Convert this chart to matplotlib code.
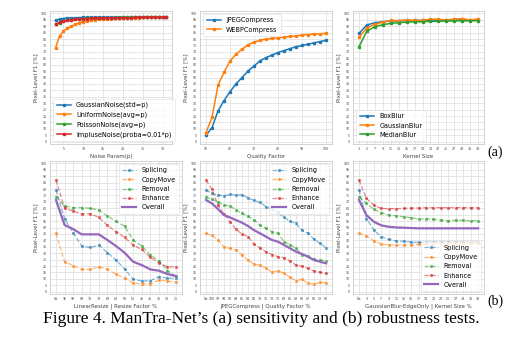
import matplotlib.pyplot as plt

# ---- (a) sensitivity tests ----
noise_p = list(range(3, 32))
gaussian_noise = [94.5, 95.6, 96.0, 96.3, 96.5, 96.6, 96.7, 96.8, 96.8, 96.9,
                  96.9, 97.0, 97.0, 97.0, 97.0, 97.0, 97.0, 97.0, 97.0, 97.0,
                  97.0, 97.0, 97.0, 97.0, 97.0, 97.0, 97.0, 97.0, 97.0]
uniform_noise = [73.2, 82.3, 86.2, 88.3, 90.1, 91.4, 92.7, 93.5, 94.2, 94.7,
                 95.0, 95.3, 95.6, 95.8, 96.0, 96.1, 96.3, 96.4, 96.5, 96.6,
                 96.7, 96.7, 96.8, 96.8, 96.9, 96.9, 97.0, 97.0, 97.0]
poisson_noise = [91.4, 92.7, 93.8, 94.5, 95.0, 95.4, 95.7, 95.9, 96.1, 96.2,
                 96.3, 96.4, 96.5, 96.6, 96.6, 96.7, 96.7, 96.8, 96.8, 96.8,
                 96.9, 96.9, 96.9, 96.9, 97.0, 97.0, 97.0, 97.0, 97.0]
impulse_noise = [91.6, 93.0, 94.0, 94.5, 95.0, 95.3, 95.6, 95.8, 96.0, 96.1,
                 96.2, 96.3, 96.4, 96.5, 96.5, 96.6, 96.6, 96.7, 96.7, 96.7,
                 96.8, 96.8, 96.8, 96.8, 96.9, 96.9, 96.9, 96.9, 96.9]

quality = [50, 52.5, 55, 57.5, 60, 62.5, 65, 67.5, 70, 72.5, 75,
           77.5, 80, 82.5, 85, 87.5, 90, 92.5, 95, 97.5, 100]
jpeg_comp = [5, 11, 24, 32, 39, 45, 50, 55, 59, 63, 65.5,
             67.5, 69.5, 71, 72.5, 74, 75, 76, 77, 78, 79]
webp_comp = [7, 19, 44, 54, 63, 68, 72, 75.5, 77.5, 79, 80,
             80.5, 81, 81.5, 82, 82.5, 83, 83.5, 84, 84, 84.5]

kernel = [3, 5, 7, 9, 11, 13, 15, 17, 19, 21, 23, 25, 27, 29, 31, 33]
box_blur = [84.4, 91.0, 92.7, 93.5, 94.0, 94.3, 94.5, 94.5, 94.6, 94.7,
            94.8, 94.8, 94.9, 94.9, 95.0, 95.0]
gauss_blur = [81.3, 88.8, 91.4, 93.2, 94.5, 94.3, 94.8, 94.5, 94.5, 95.5,
              95.5, 94.8, 95.5, 96.0, 94.8, 95.8]
median_blur = [74.0, 86.2, 89.6, 91.2, 92.2, 92.7, 93.2, 93.4, 93.5, 93.8,
               93.9, 94.0, 94.1, 94.2, 94.2, 94.3]

# ---- (b) robustness tests ----
resize_labels = ["No", "95", "90", "84", "78", "73", "68", "62", "56", "51",
                 "46", "41", "35", "30", "25"]
resize_splicing = [79.5, 57.0, 46.0, 35.6, 34.5, 36.4, 30.4, 24.7, 17.7, 9.9,
                   8.3, 8.6, 11.7, 10.6, 10.6]
resize_copymove = [45.5, 23.4, 20.3, 17.4, 17.4, 19.5, 17.4, 13.8, 10.4, 7.0,
                   6.0, 6.2, 9.0, 8.3, 7.5]
resize_removal = [74.0, 66.8, 65.5, 65.5, 65.0, 63.6, 59.0, 54.8, 51.2, 40.3,
                  35.6, 28.6, 24.2, 16.4, 12.2]
resize_enhance = [87.0, 65.0, 62.9, 60.5, 60.8, 57.9, 51.7, 46.8, 42.3, 36.4,
                  33.0, 26.8, 22.6, 19.5, 19.2]
resize_overall = [71.5, 52.0, 48.8, 44.7, 44.7, 44.7, 40.3, 35.6, 30.4, 23.4,
                  20.8, 17.4, 16.4, 13.8, 12.2]

jpeg_labels = ["No", "100", "97", "94", "92", "89", "86", "84", "81", "78",
               "76", "73", "71", "68", "65", "63", "60", "57", "55", "52", "50"]
jpeg_splicing = [79.5, 76.6, 75.3, 74.8, 75.8, 75.3, 75.6, 73.2, 71.2, 69.6,
                 66.2, 64.4, 61.8, 57.9, 55.0, 53.2, 48.0, 45.5, 40.8, 37.7, 34.3]
jpeg_copymove = [45.5, 43.9, 40.3, 35.0, 33.8, 32.5, 28.6, 24.7, 21.3, 20.8,
                 18.4, 15.3, 16.4, 14.3, 11.2, 8.6, 9.6, 6.5, 6.0, 7.3, 7.0]
jpeg_removal = [74.0, 72.0, 70.1, 67.5, 67.0, 63.6, 61.0, 59.0, 55.8, 51.9,
                49.4, 46.8, 45.5, 39.0, 36.4, 33.8, 29.0, 27.8, 25.2, 24.7, 24.2]
jpeg_enhance = [87.0, 79.7, 67.5, 60.5, 54.5, 48.6, 45.0, 42.9, 37.1, 34.3,
                31.2, 29.0, 27.3, 26.5, 23.9, 20.8, 20.0, 18.2, 16.1, 15.3, 14.3]
jpeg_overall = [71.5, 68.8, 64.4, 59.7, 57.9, 55.8, 53.8, 51.2, 48.0, 45.5,
                42.9, 40.3, 39.0, 36.4, 33.8, 31.2, 29.4, 27.3, 24.7, 23.4, 22.1]

edge_labels = ["No", "3", "5", "7", "9", "11", "13", "15", "17", "19", "21",
               "23", "25", "27", "29", "31", "33"]
edge_splicing = [79.5, 57.0, 48.0, 42.9, 40.8, 39.7, 39.2, 38.7, 38.4, 38.4,
                 38.7, 38.4, 38.7, 38.4, 38.4, 38.2, 38.2]
edge_copymove = [45.5, 43.4, 39.7, 37.1, 36.6, 36.4, 36.4, 36.4, 36.9, 37.1,
                 37.4, 37.7, 37.7, 37.7, 37.9, 38.2, 38.2]
edge_removal = [74.0, 68.8, 64.2, 61.6, 59.7, 59.2, 58.4, 57.7, 56.6, 56.9,
                56.4, 55.8, 55.3, 55.6, 55.6, 55.3, 55.3]
edge_enhance = [87.0, 72.7, 67.5, 64.9, 64.7, 64.7, 64.9, 65.2, 65.2, 65.5,
                65.5, 65.5, 65.5, 65.5, 65.5, 65.5, 65.5]
edge_overall = [71.5, 59.7, 54.5, 51.7, 50.6, 50.1, 49.9, 49.6, 49.4, 49.4,
                49.4, 49.4, 49.4, 49.4, 49.4, 49.4, 49.4]

C_BLUE, C_ORANGE, C_GREEN, C_RED, C_PURPLE = "#1f77b4", "#ff7f0e", "#2ca02c", "#d62728", "#9467bd"
GRID = "#dcdcdc"
TICK_FS = 2.3
LABEL_FS = 4.0
LEG_FS = 4.7

plt.rcParams["font.family"] = "DejaVu Sans"

fig = plt.figure(figsize=(5.23, 3.40), dpi=100)
fig.patch.set_facecolor("white")


def style_axes(ax):
    ax.set_ylim(-2, 102)
    ax.set_yticks(range(0, 101, 5))
    ax.grid(True, color=GRID, linewidth=0.5)
    ax.set_axisbelow(True)
    for s in ax.spines.values():
        s.set_color("#cccccc")
        s.set_linewidth(0.6)
    ax.tick_params(length=0, labelsize=TICK_FS, colors="#444444", pad=2)
    ax.set_ylabel("Pixel-Level F1 [%]", fontsize=LABEL_FS, color="#444444", labelpad=2)


def legend(ax, loc):
    lg = ax.legend(loc=loc, fontsize=LEG_FS, frameon=True, fancybox=True,
                   borderpad=0.5, labelspacing=0.5, handlelength=2.2)
    lg.get_frame().set_edgecolor("#dddddd")
    lg.get_frame().set_linewidth(0.5)


top_y, bot_y, h = 0.5756, 0.1344, 0.3926

# Noise sensitivity
ax1 = fig.add_axes([0.0956, top_y, 0.2333, h])
kw = dict(marker="s", markersize=1.4, linewidth=1.1)
ax1.plot(noise_p, gaussian_noise, color=C_BLUE, label="GaussianNoise(std=p)", **kw)
ax1.plot(noise_p, uniform_noise, color=C_ORANGE, label="UniformNoise(avg=p)", **kw)
ax1.plot(noise_p, poisson_noise, color=C_GREEN, label="PoissonNoise(avg=p)", **kw)
ax1.plot(noise_p, impulse_noise, color=C_RED, label="ImpluseNoise(proba=0.01*p)", **kw)
ax1.set_xticks([5, 10, 15, 20, 25, 30])
ax1.set_xlabel("Noise Param(p)", fontsize=LABEL_FS, color="#444444", labelpad=2)
style_axes(ax1)
legend(ax1, "lower left")

# Compression sensitivity
ax2 = fig.add_axes([0.3824, top_y, 0.2524, h])
ax2.plot(quality, jpeg_comp, color=C_BLUE, label="JPEGCompress", **kw)
ax2.plot(quality, webp_comp, color=C_ORANGE, label="WEBPCompress", **kw)
ax2.set_xticks([50, 60, 70, 80, 90, 100])
ax2.set_xlabel("Quality Factor", fontsize=LABEL_FS, color="#444444", labelpad=2)
style_axes(ax2)
legend(ax2, "upper left")

# Blur sensitivity
ax3 = fig.add_axes([0.675, top_y, 0.2505, h])
ax3.plot(kernel, box_blur, color=C_BLUE, label="BoxBlur", **kw)
ax3.plot(kernel, gauss_blur, color=C_ORANGE, label="GaussianBlur", **kw)
ax3.plot(kernel, median_blur, color=C_GREEN, label="MedianBlur", **kw)
ax3.set_xticks(kernel)
ax3.set_xlabel("Kernel Size", fontsize=LABEL_FS, color="#444444", labelpad=2)
style_axes(ax3)
legend(ax3, "lower left")


def robustness(ax, labels, spl, cpm, rem, enh, ovr, xlabel, loc):
    x = list(range(len(labels)))
    dk = dict(linestyle="--", marker="s", markersize=1.2, linewidth=0.9, alpha=0.55)
    ax.plot(x, spl, color=C_BLUE, label="Splicing", **dk)
    ax.plot(x, cpm, color=C_ORANGE, label="CopyMove", **dk)
    ax.plot(x, rem, color=C_GREEN, label="Removal", **dk)
    ax.plot(x, enh, color=C_RED, label="Enhance", **dk)
    ax.plot(x, ovr, color=C_PURPLE, linewidth=1.6, label="Overall")
    ax.set_xticks(x)
    ax.set_xticklabels(labels)
    ax.set_xlabel(xlabel, fontsize=LABEL_FS, color="#444444", labelpad=2)
    style_axes(ax)
    legend(ax, loc)


ax4 = fig.add_axes([0.0956, bot_y, 0.2524, h])
robustness(ax4, resize_labels, resize_splicing, resize_copymove, resize_removal,
           resize_enhance, resize_overall, "LinearResize | Resize Factor %", "upper right")

ax5 = fig.add_axes([0.3824, bot_y, 0.2524, h])
robustness(ax5, jpeg_labels, jpeg_splicing, jpeg_copymove, jpeg_removal,
           jpeg_enhance, jpeg_overall, "JPEGCompress | Quality Factor %", "upper right")

ax6 = fig.add_axes([0.675, bot_y, 0.2505, h])
robustness(ax6, edge_labels, edge_splicing, edge_copymove, edge_removal,
           edge_enhance, edge_overall, "GaussianBlur-EdgeOnly | Kernel Size %", "lower right")

serif = "Liberation Serif"
fig.text(0.932, 1 - 152 / 340, "(a)", family=serif, fontsize=10, va="center", ha="left")
fig.text(0.932, 1 - 301 / 340, "(b)", family=serif, fontsize=10, va="center", ha="left")
fig.text(0.5, 1 - 319 / 340, "Figure 4. ManTra-Net\u2019s (a) sensitivity and (b) robustness tests.",
         family=serif, fontsize=12.5, va="center", ha="center")

fig.savefig("out.png", dpi=100)
